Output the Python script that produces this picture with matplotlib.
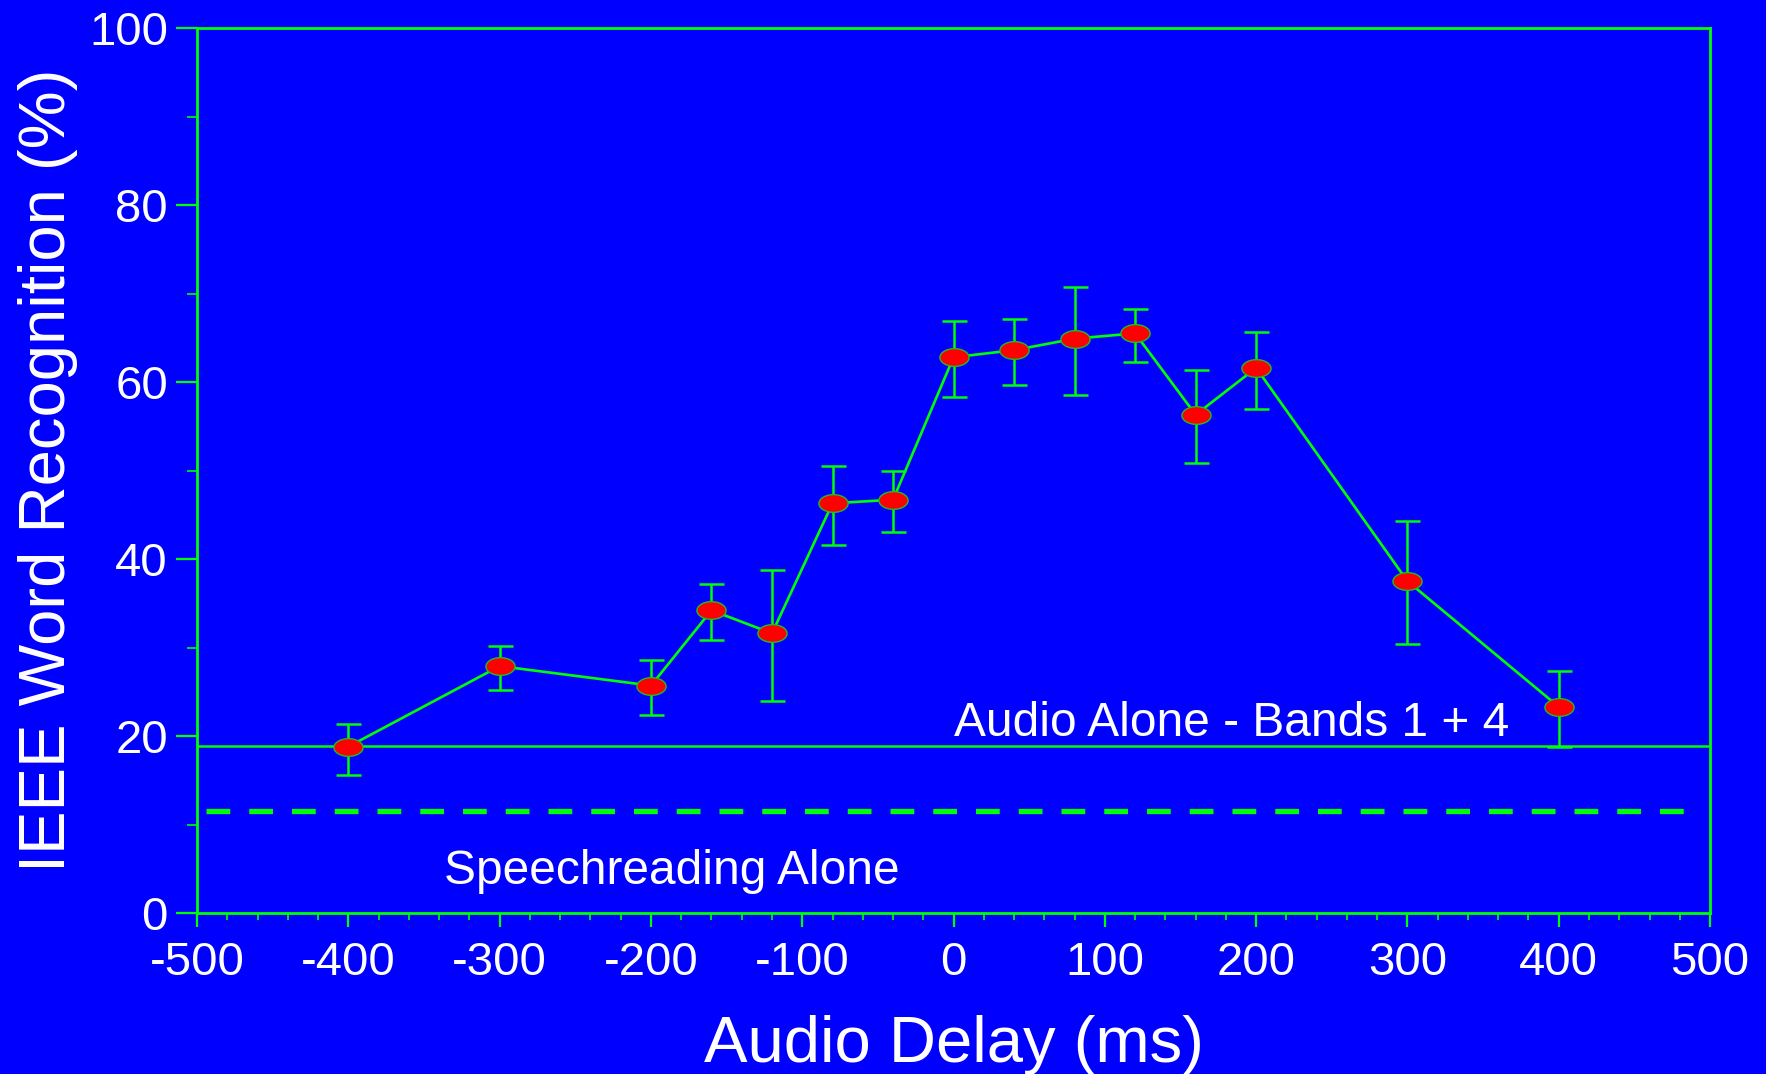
import numpy as np
import matplotlib
matplotlib.use("Agg")
import matplotlib.pyplot as plt
from matplotlib.path import Path
from matplotlib.ticker import MultipleLocator

plt.rcParams['font.family'] = ['Liberation Sans', 'DejaVu Sans']
plt.rcParams['axes.unicode_minus'] = False

# data
delay_ms = [-400, -300, -200, -160, -120, -80, -40, 0, 40, 80, 120, 160, 200, 300, 400]
recognition = [18.8, 27.9, 25.7, 34.2, 31.6, 46.3, 46.7, 62.8, 63.6, 64.9, 65.5, 56.3, 61.6, 37.5, 23.3]
err_upper = [21.4, 30.2, 28.6, 37.2, 38.8, 50.5, 49.9, 66.9, 67.1, 70.7, 68.2, 61.4, 65.7, 44.3, 27.4]
err_lower = [15.6, 25.2, 22.4, 30.9, 24.0, 41.6, 43.1, 58.3, 59.7, 58.5, 62.3, 50.8, 57.0, 30.4, 18.8]
audio_alone = 18.9
speechreading_alone = 11.5

blue = "#0000FF"
green = "#00FF00"
red = "#FF0000"

fig = plt.figure(figsize=(17.66, 10.74), dpi=100, facecolor=blue)
ax = fig.add_axes([0.1116, 0.1499, 0.8567, 0.824])
ax.set_facecolor(blue)

x = np.array(delay_ms)
y = np.array(recognition)
yerr = np.array([y - np.array(err_lower), np.array(err_upper) - y])

# flat ellipse marker
t = np.linspace(0, 2 * np.pi, 60)
ellipse = Path(np.column_stack([1.65 * np.cos(t), np.sin(t)]), closed=True)

ax.axhline(audio_alone, color=green, lw=1.8, zorder=2)
ax.plot([-494, 492], [speechreading_alone] * 2, color=green, lw=3.8,
        dashes=(4.5, 3.6), zorder=2)

ax.errorbar(x, y, yerr=yerr, fmt="none", ecolor=green, elinewidth=1.8,
            capsize=9, capthick=1.8, zorder=3)
ax.plot(x, y, color=green, lw=1.9, zorder=4)
ax.plot(x, y, ls="none", marker=ellipse, markersize=21, markerfacecolor=red,
        markeredgecolor="#22bb22", markeredgewidth=1.0, zorder=5)

ax.text(0, 20.0, "Audio Alone - Bands 1 + 4", color="white", fontsize=34.5,
        ha="left", va="baseline")
ax.text(-337, 3.3, "Speechreading Alone", color="white", fontsize=34.5,
        ha="left", va="baseline")

ax.set_xlim(-500, 500)
ax.set_ylim(0, 100)
ax.xaxis.set_major_locator(MultipleLocator(100))
ax.xaxis.set_minor_locator(MultipleLocator(20))
ax.yaxis.set_major_locator(MultipleLocator(20))
ax.yaxis.set_minor_locator(MultipleLocator(10))

for s in ax.spines.values():
    s.set_color(green)
    s.set_linewidth(2.0)

ax.tick_params(axis="x", which="major", direction="out", length=10, width=1.6,
               color=green, labelcolor="white", labelsize=34, pad=10)
ax.tick_params(axis="x", which="minor", direction="out", length=5, width=1.2, color=green)
ax.tick_params(axis="y", which="major", direction="out", length=15, width=1.6,
               color=green, labelcolor="white", labelsize=34, pad=6)
ax.tick_params(axis="y", which="minor", direction="out", length=7.5, width=1.2, color=green)

ax.set_xlabel("Audio Delay (ms)", color="white", fontsize=47, labelpad=22)
ax.set_ylabel("IEEE Word Recognition (%)", color="white", fontsize=47, labelpad=8)

fig.savefig("out.png", dpi=100, facecolor=blue)
